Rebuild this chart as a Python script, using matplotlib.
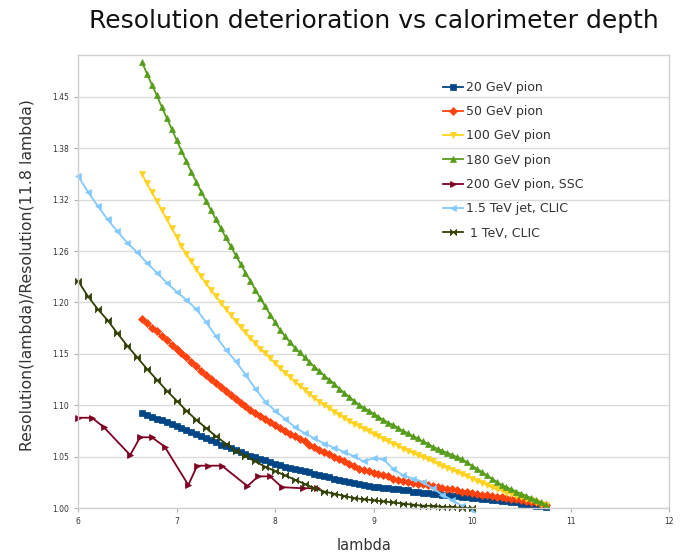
import matplotlib
matplotlib.use('Agg')
import matplotlib.pyplot as plt

# ---------------- data ----------------
depth_pion = [6.65, 6.70, 6.75, 6.80, 6.85, 6.90, 6.95, 7.00, 7.05, 7.10,
              7.15, 7.20, 7.25, 7.30, 7.35, 7.40, 7.45, 7.50, 7.55, 7.60,
              7.65, 7.70, 7.75, 7.80, 7.85, 7.90, 7.95, 8.00, 8.05, 8.10,
              8.15, 8.20, 8.25, 8.30, 8.35, 8.40, 8.45, 8.50, 8.55, 8.60,
              8.65, 8.70, 8.75, 8.80, 8.85, 8.90, 8.95, 9.00, 9.05, 9.10,
              9.15, 9.20, 9.25, 9.30, 9.35, 9.40, 9.45, 9.50, 9.55, 9.60,
              9.65, 9.70, 9.75, 9.80, 9.85, 9.90, 9.95, 10.00, 10.05, 10.10,
              10.15, 10.20, 10.25, 10.30, 10.35, 10.40, 10.45, 10.50, 10.55, 10.60,
              10.65, 10.70, 10.75]

pion20 = [1.090, 1.088, 1.086, 1.084, 1.083, 1.081, 1.079, 1.077, 1.075, 1.073,
          1.071, 1.069, 1.067, 1.065, 1.063, 1.061, 1.059, 1.058, 1.056, 1.054,
          1.052, 1.050, 1.048, 1.047, 1.045, 1.044, 1.042, 1.041, 1.040, 1.038,
          1.037, 1.036, 1.035, 1.034, 1.033, 1.031, 1.030, 1.029, 1.028, 1.027,
          1.026, 1.025, 1.024, 1.023, 1.022, 1.021, 1.020, 1.019, 1.019, 1.018,
          1.018, 1.017, 1.017, 1.016, 1.016, 1.015, 1.015, 1.014, 1.014, 1.013,
          1.013, 1.012, 1.012, 1.011, 1.011, 1.010, 1.010, 1.009, 1.009, 1.008,
          1.008, 1.007, 1.007, 1.006, 1.006, 1.005, 1.005, 1.004, 1.003, 1.003,
          1.002, 1.002, 1.001]

pion50 = [1.186, 1.182, 1.177, 1.173, 1.168, 1.164, 1.159, 1.155, 1.150, 1.146,
          1.141, 1.137, 1.132, 1.128, 1.124, 1.120, 1.116, 1.112, 1.108, 1.104,
          1.100, 1.097, 1.093, 1.090, 1.087, 1.084, 1.081, 1.078, 1.075, 1.072,
          1.069, 1.067, 1.064, 1.062, 1.059, 1.057, 1.054, 1.052, 1.050, 1.047,
          1.045, 1.043, 1.041, 1.039, 1.036, 1.035, 1.034, 1.032, 1.031, 1.030,
          1.029, 1.027, 1.026, 1.025, 1.024, 1.023, 1.022, 1.022, 1.021, 1.020,
          1.019, 1.018, 1.017, 1.017, 1.016, 1.015, 1.015, 1.014, 1.013, 1.012,
          1.012, 1.011, 1.010, 1.010, 1.009, 1.008, 1.008, 1.007, 1.006, 1.005,
          1.005, 1.004, 1.003]

pion100 = [1.352, 1.341, 1.330, 1.320, 1.309, 1.299, 1.288, 1.278, 1.267, 1.258,
           1.250, 1.241, 1.233, 1.225, 1.218, 1.211, 1.204, 1.197, 1.191, 1.184,
           1.178, 1.172, 1.166, 1.161, 1.155, 1.150, 1.145, 1.140, 1.135, 1.130,
           1.126, 1.121, 1.117, 1.113, 1.109, 1.105, 1.101, 1.098, 1.095, 1.091,
           1.088, 1.085, 1.082, 1.079, 1.077, 1.074, 1.072, 1.069, 1.067, 1.064,
           1.062, 1.060, 1.058, 1.055, 1.053, 1.051, 1.049, 1.047, 1.045, 1.043,
           1.041, 1.039, 1.037, 1.035, 1.033, 1.031, 1.029, 1.027, 1.025, 1.023,
           1.021, 1.019, 1.017, 1.016, 1.014, 1.013, 1.011, 1.010, 1.008, 1.007,
           1.005, 1.004, 1.003]

pion180 = [1.496, 1.481, 1.466, 1.452, 1.437, 1.423, 1.409, 1.395, 1.381, 1.368,
           1.355, 1.343, 1.331, 1.320, 1.309, 1.298, 1.288, 1.277, 1.267, 1.257,
           1.247, 1.237, 1.228, 1.218, 1.209, 1.200, 1.191, 1.183, 1.175, 1.168,
           1.162, 1.156, 1.151, 1.146, 1.141, 1.136, 1.132, 1.127, 1.123, 1.119,
           1.114, 1.110, 1.106, 1.102, 1.098, 1.095, 1.092, 1.089, 1.086, 1.083,
           1.080, 1.078, 1.075, 1.072, 1.070, 1.067, 1.065, 1.062, 1.060, 1.057,
           1.055, 1.053, 1.051, 1.049, 1.047, 1.045, 1.042, 1.039, 1.036, 1.033,
           1.030, 1.027, 1.024, 1.021, 1.019, 1.017, 1.015, 1.013, 1.011, 1.009,
           1.007, 1.005, 1.003]

depth_ssc = [6.00, 6.14, 6.26, 6.53, 6.63, 6.75, 6.88, 7.12, 7.21, 7.32,
             7.46, 7.72, 7.83, 7.95, 8.07, 8.28, 8.43]
pion200_ssc = [1.085, 1.085, 1.076, 1.049, 1.066, 1.066, 1.057, 1.021, 1.039, 1.039,
               1.039, 1.020, 1.029, 1.029, 1.019, 1.018, 1.018]

depth_clic = [6.0, 6.1, 6.2, 6.3, 6.4, 6.5, 6.6, 6.7, 6.8, 6.9,
              7.0, 7.1, 7.2, 7.3, 7.4, 7.5, 7.6, 7.7, 7.8, 7.9,
              8.0, 8.1, 8.2, 8.3, 8.4, 8.5, 8.6, 8.7, 8.8, 8.9,
              9.0, 9.1, 9.2, 9.3, 9.4, 9.5, 9.6, 9.7, 9.8, 9.9, 10.0]
jet15_clic = [1.350, 1.331, 1.314, 1.298, 1.284, 1.271, 1.260, 1.248, 1.237, 1.226,
              1.216, 1.207, 1.197, 1.183, 1.168, 1.154, 1.142, 1.128, 1.114, 1.101,
              1.092, 1.084, 1.076, 1.070, 1.065, 1.060, 1.056, 1.052, 1.048, 1.043,
              1.046, 1.045, 1.036, 1.030, 1.027, 1.024, 1.018, 1.012, 1.007, 1.002,
              0.998]
tev1_clic = [1.228, 1.211, 1.197, 1.185, 1.171, 1.158, 1.146, 1.134, 1.123, 1.112,
             1.102, 1.092, 1.083, 1.075, 1.067, 1.060, 1.053, 1.048, 1.043, 1.038,
             1.034, 1.030, 1.026, 1.022, 1.018, 1.015, 1.013, 1.011, 1.009, 1.008,
             1.007, 1.006, 1.005, 1.004, 1.003, 1.002, 1.002, 1.001, 1.001, 1.000,
             1.000]

labels = ["20 GeV pion", "50 GeV pion", "100 GeV pion", "180 GeV pion",
          "200 GeV pion, SSC", "1.5 TeV jet, CLIC", " 1 TeV, CLIC"]
colors = ["#004586", "#ff420e", "#ffd320", "#579d1c", "#7e0021", "#83caff", "#314004"]

ytick_vals = [1.0, 1.0475, 1.0974, 1.1495, 1.2042, 1.2614, 1.3214, 1.3842, 1.45]
ytick_labels = ["1.00", "1.05", "1.10", "1.15", "1.20", "1.26", "1.32", "1.38", "1.45"]
xtick_vals = [6, 7, 8, 9, 10, 11, 12]

# ---------------- figure ----------------
W, H = 682, 557
fig = plt.figure(figsize=(W / 100, H / 100), dpi=100)
L, R, T, B = 78, 669, 55, 508
ax = fig.add_axes([L / W, 1 - B / H, (R - L) / W, (B - T) / H])
ax.set_yscale('log')
ax.set_xlim(6, 12)
ax.set_ylim(1.0, 1.506)
ax.set_yticks(ytick_vals)
ax.set_yticklabels(ytick_labels)
ax.minorticks_off()
ax.set_xticks(xtick_vals)
ax.set_xticklabels([str(v) for v in xtick_vals])
ax.tick_params(axis='both', labelsize=5.5, labelcolor='#333333', color='#b0b0b0',
               length=3, width=0.8)
ax.grid(axis='y', color='#dcdcdc', lw=1.0)
ax.set_axisbelow(True)
for s in ax.spines.values():
    s.set_color('#d0d0d0')
    s.set_linewidth(1.0)

bowtie = [(-1, -1), (-1, 1), (1, -1), (1, 1), (-1, -1)]

series = [
    (depth_pion, pion20, 's', 5.0),
    (depth_pion, pion50, 'D', 3.8),
    (depth_pion, pion100, 'v', 4.8),
    (depth_pion, pion180, '^', 4.8),
    (depth_ssc, pion200_ssc, '>', 4.5),
    (depth_clic, jet15_clic, '<', 4.5),
    (depth_clic, tev1_clic, bowtie, 4.5),
]
for (xs, ys, mk, ms), lab, col in zip(series, labels, colors):
    ax.plot(xs, ys, color=col, lw=1.3, marker=mk, markersize=ms,
            markerfacecolor=col, markeredgecolor=col, markeredgewidth=0.5,
            label=lab, clip_on=False)

leg = ax.legend(loc='upper left', bbox_to_anchor=((438 - L) / (R - L), (B - 76) / (B - T)),
                frameon=False, fontsize=9, handlelength=1.6, handletextpad=0.2,
                labelspacing=0.90, borderaxespad=0)
for t in leg.get_texts():
    t.set_color('#333333')

fig.text((L + R) / 2 / W, 1 - 21 / H, "Resolution deterioration vs calorimeter depth",
         ha='center', va='center', fontsize=18, color='#111111')
fig.text(27 / W, 1 - 275 / H, "Resolution(lambda)/Resolution(11.8 lambda)",
         rotation=90, ha='center', va='center', fontsize=11.3, color='#333333')
fig.text(364 / W, 1 - 546 / H, "lambda", ha='center', va='center',
         fontsize=10.5, color='#333333')

fig.savefig("out.png", dpi=100)
